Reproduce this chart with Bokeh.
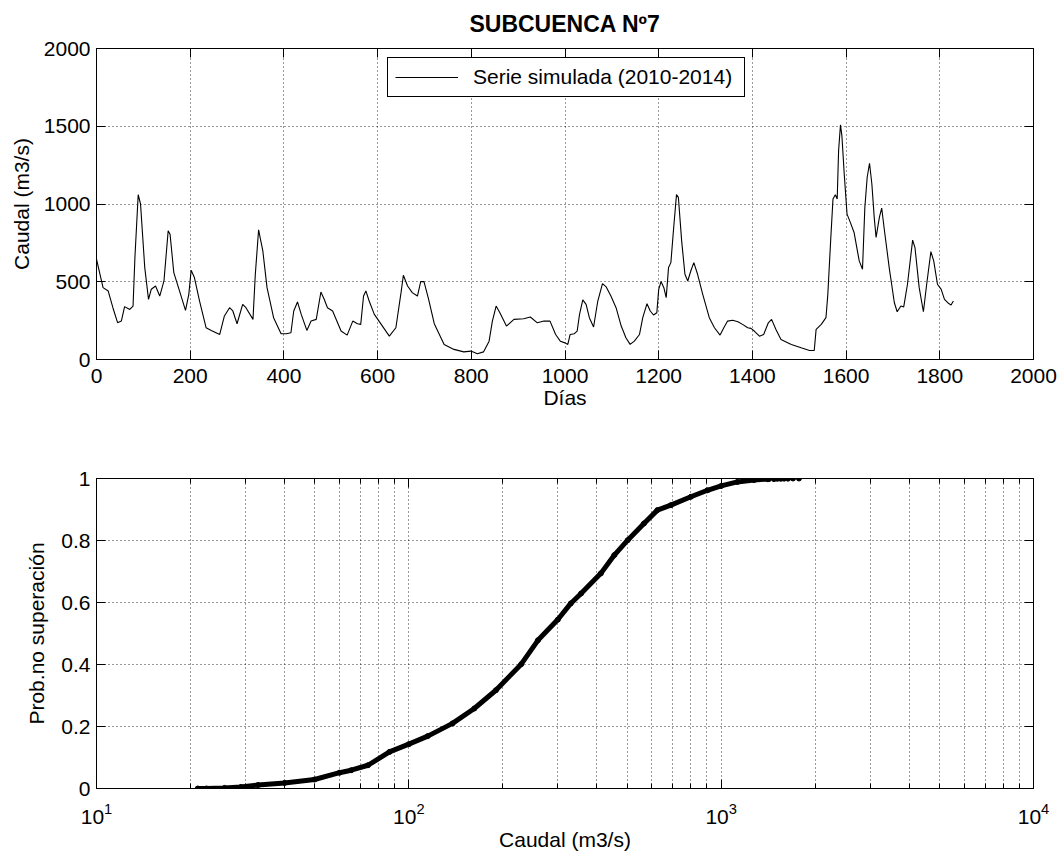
from bokeh.plotting import figure
from bokeh.models import (LinearAxis, LogAxis, FixedTicker, Legend, LegendItem,
                          Range1d, LogTickFormatter, CustomJSTickFormatter)
from bokeh.layouts import column
from bokeh.embed import file_html
from bokeh.resources import INLINE

FONT = "Liberation Sans"

# ---------------- data: simulated daily flow -------------
dias = [0, 14, 25, 35, 45, 53, 60, 71, 78, 82, 89, 94, 103, 111, 117, 126, 135, 144,
        153, 157, 165, 175, 190, 197, 202, 209, 220, 234, 245, 263, 273, 284, 291, 300,
        312, 319, 334, 339, 346, 355, 364, 378, 394, 405, 415, 421, 429, 437, 449, 458,
        469, 479, 486, 493, 504, 522, 535, 547, 557, 564, 570, 575, 582, 593, 603, 625,
        639, 650, 655, 664, 674, 685, 692, 699, 708, 721, 742, 763, 784, 799, 813, 826,
        838, 845, 853, 861, 875, 891, 912, 926, 941, 955, 968, 980, 990,
        1000, 1006, 1011, 1020, 1026, 1031, 1038, 1045, 1052, 1061, 1070, 1080, 1088,
        1098, 1109, 1120, 1130, 1139, 1148, 1159, 1166, 1175, 1182, 1189, 1196, 1200,
        1205, 1211, 1216, 1221, 1226, 1232, 1238, 1242, 1249, 1256, 1262, 1269, 1275,
        1283, 1294, 1308, 1319, 1331, 1339, 1347, 1358, 1369, 1379, 1390, 1397, 1404,
        1415, 1424, 1434, 1441, 1450, 1461, 1483, 1504, 1522, 1532, 1536, 1547, 1557,
        1561, 1567, 1572, 1577, 1581, 1584, 1588, 1591, 1596, 1602, 1609, 1617, 1628,
        1635, 1640, 1645, 1650, 1655, 1660, 1664, 1671, 1676, 1681, 1692, 1703, 1709,
        1717, 1723, 1731, 1742, 1747, 1756, 1765, 1772, 1781, 1787, 1795, 1803, 1810,
        1817, 1824, 1829]
caudal = [645, 462, 440, 333, 237, 247, 340, 322, 344, 656, 1060, 1000, 591, 387, 452,
          473, 408, 505, 828, 806, 559, 462, 316, 419, 574, 527, 376, 204, 187, 161, 280,
          333, 312, 230, 355, 333, 258, 548, 834, 699, 462, 269, 166, 166, 172, 312, 370,
          290, 187, 247, 258, 434, 387, 333, 312, 183, 157, 247, 230, 226, 408, 441, 376,
          290, 247, 150, 204, 430, 542, 473, 430, 408, 501, 501, 398, 230, 97, 65, 49, 54,
          37, 49, 118, 247, 344, 301, 215, 258, 262, 273, 236, 247, 247, 161, 118,
          107, 97, 161, 166, 183, 290, 383, 355, 269, 209, 376, 488, 467, 408, 333, 215,
          140, 97, 118, 161, 269, 359, 312, 286, 301, 451, 501, 462, 398, 591, 623, 849,
          1060, 1043, 763, 548, 505, 574, 623, 548, 419, 269, 204, 157, 204, 247, 252,
          243, 226, 204, 200, 183, 150, 161, 236, 258, 194, 129, 97, 75, 58, 58, 194, 226,
          269, 419, 763, 1032, 1060, 1032, 1344, 1509, 1440, 1193, 935, 882, 817, 634,
          580, 978, 1172, 1262, 1129, 914, 785, 914, 974, 849, 591, 365, 307, 344, 338,
          484, 768, 720, 462, 307, 484, 694, 634, 484, 451, 387, 365, 350, 376]

# ---------------- data: non-exceedance probability curve -------------------------
cdf_q = [21.1, 22.5, 25.7, 29.0, 32.9, 40.0, 49.9, 60.0, 65.4, 74.0, 86.7, 100, 115,
         138, 162, 190, 229, 259, 300, 330, 356, 412, 455, 502, 566, 625, 690, 800,
         904, 1000, 1127, 1274, 1406]
cdf_p = [0.0, 0.0, 0.002, 0.005, 0.011, 0.018, 0.029, 0.051, 0.059, 0.075, 0.118,
         0.143, 0.169, 0.21, 0.258, 0.317, 0.401, 0.478, 0.545, 0.597, 0.629, 0.694,
         0.753, 0.801, 0.855, 0.898, 0.914, 0.941, 0.962, 0.976, 0.989, 0.995, 0.998]
tail_q = [1422, 1476, 1513, 1552, 1590, 1637, 1698, 1774]
tail_p = [0.998, 0.998, 0.999, 0.999, 0.9995, 0.9995, 1.0, 1.0]

# ---------------- ticks ----------------------------------------------------------
top_xticks = [0, 200, 400, 600, 800, 1000, 1200, 1400, 1600, 1800, 2000]
top_yticks = [0, 500, 1000, 1500, 2000]
bot_xticks = [10, 100, 1000, 10000]
bot_xminor = [m * d for d in (10, 100, 1000) for m in range(2, 10)]
bot_yticks = [0, 0.2, 0.4, 0.6, 0.8, 1.0]
bot_ylabels = {0: "0", 0.2: "0.2", 0.4: "0.4", 0.6: "0.6", 0.8: "0.8", 1: "1"}

BLANK = "return ''"


def style_axis(ax, labels=True):
    ax.axis_line_color = "black"
    ax.axis_line_width = 1
    ax.major_tick_line_color = "black"
    ax.minor_tick_line_color = "black"
    ax.major_tick_in = 9
    ax.major_tick_out = 0
    ax.minor_tick_in = 0
    ax.minor_tick_out = 0
    ax.major_label_text_font = FONT
    ax.major_label_text_color = "black"
    ax.axis_label_text_font = FONT
    ax.axis_label_text_font_size = "21px"
    ax.axis_label_text_font_style = "normal"
    ax.axis_label_text_color = "black"
    ax.major_label_text_font_size = "21px"
    if labels:
        ax.major_label_standoff = 6
    else:
        ax.formatter = CustomJSTickFormatter(code=BLANK)
        ax.major_label_standoff = 0


def style_grid(p):
    for g in (p.xgrid, p.ygrid):
        g.grid_line_color = "black"
        g.grid_line_alpha = 0.8
        g.grid_line_dash = "1 3"
        g.grid_line_width = 1


# ---------------- top figure -----------------------------------------------------
p1 = figure(width=1061, height=420, x_range=Range1d(0, 2000), y_range=Range1d(0, 2000),
            output_backend="svg", toolbar_location=None,
            min_border_left=96, min_border_right=28, min_border_top=48,
            min_border_bottom=61, title="SUBCUENCA Nº7")
p1.title.text_font = FONT
p1.title.text_font_size = "23px"
p1.title.text_font_style = "bold"
p1.title.text_color = "black"
p1.title.align = "center"
p1.title.vertical_align = "top"
p1.title.standoff = 20
p1.outline_line_color = "black"
p1.background_fill_color = "white"

p1.xaxis.ticker = FixedTicker(ticks=top_xticks)
p1.yaxis.ticker = FixedTicker(ticks=top_yticks)
p1.xaxis.axis_label = "Días"
p1.yaxis.axis_label = "Caudal (m3/s)"
for ax in p1.xaxis + p1.yaxis:
    style_axis(ax)
p1.xaxis.major_label_standoff = 9
p1.xaxis.axis_label_standoff = 0
p1.yaxis.axis_label_standoff = 8

ax_r = LinearAxis(ticker=FixedTicker(ticks=top_yticks))
style_axis(ax_r, labels=False)
p1.add_layout(ax_r, "right")
ax_t = LinearAxis(ticker=FixedTicker(ticks=top_xticks))
style_axis(ax_t, labels=False)
p1.add_layout(ax_t, "above")
style_grid(p1)

r = p1.line(dias, caudal, line_color="black", line_width=1.1)
leg = Legend(items=[LegendItem(label="Serie simulada (2010-2014)", renderers=[r])],
             location=(291, 262), glyph_width=63, glyph_height=22, label_height=22,
             label_width=264, label_standoff=15, padding=7, margin=0, spacing=0,
             border_line_color="black", border_line_width=1, border_line_alpha=1,
             background_fill_color="white", background_fill_alpha=1,
             label_text_font=FONT, label_text_font_size="21px",
             label_text_color="black")
p1.add_layout(leg)

# ---------------- bottom figure --------------------------------------------------
p2 = figure(width=1061, height=433, x_axis_type="log", x_range=Range1d(10, 10000),
            y_range=Range1d(0, 1), output_backend="svg", toolbar_location=None,
            min_border_left=96, min_border_right=28, min_border_top=58,
            min_border_bottom=65)
p2.outline_line_color = "black"
p2.xaxis.ticker = FixedTicker(ticks=bot_xticks, minor_ticks=bot_xminor)
p2.xaxis.formatter = LogTickFormatter()
p2.yaxis.ticker = FixedTicker(ticks=bot_yticks)
p2.yaxis.major_label_overrides = bot_ylabels
p2.xaxis.axis_label = "Caudal (m3/s)"
p2.yaxis.axis_label = "Prob.no superación"
for ax in p2.xaxis + p2.yaxis:
    style_axis(ax)
for ax in p2.xaxis:
    ax.minor_tick_in = 5
    ax.major_label_standoff = 14
p2.xaxis.axis_label_standoff = 1
p2.yaxis.axis_label_standoff = 10

ax_r2 = LinearAxis(ticker=FixedTicker(ticks=bot_yticks))
style_axis(ax_r2, labels=False)
p2.add_layout(ax_r2, "right")
ax_t2 = LogAxis(ticker=FixedTicker(ticks=bot_xticks, minor_ticks=bot_xminor))
style_axis(ax_t2, labels=False)
ax_t2.minor_tick_in = 5
p2.add_layout(ax_t2, "above")
style_grid(p2)
p2.xgrid.minor_grid_line_color = "black"
p2.xgrid.minor_grid_line_alpha = 0.8
p2.xgrid.minor_grid_line_dash = "1 3"

p2.line(cdf_q, cdf_p, line_color="black", line_width=5, line_cap="round",
        line_join="round")
p2.scatter(cdf_q, cdf_p, size=5, color="black")
p2.scatter(tail_q, tail_p, size=5, color="black")

layout = column(p1, p2, spacing=0)
open("out.html", "w").write(file_html(layout, INLINE))
